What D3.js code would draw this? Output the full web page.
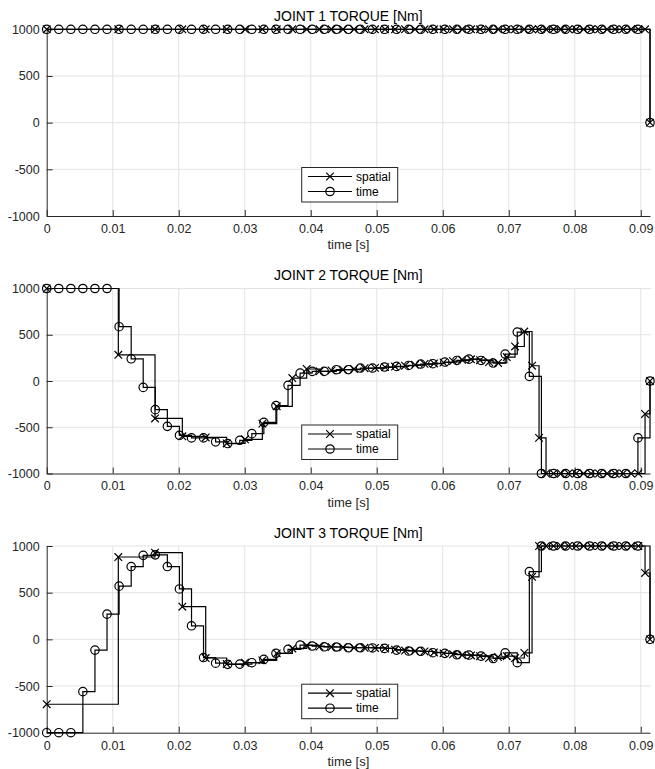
<!DOCTYPE html>
<html>
<head>
<meta charset="utf-8">
<script src="https://cdn.jsdelivr.net/npm/d3@7"></script>
<style>
  body { margin: 0; background: #fff; }
  svg { display: block; font-family: "Liberation Sans", Helvetica, Arial, sans-serif; }
</style>
</head>
<body>
<div id="chart"></div>
<script>
// sample times [s]
const timeT = [0, 0.00183, 0.00366, 0.00548, 0.00731, 0.00914, 0.01097, 0.0128, 0.01462, 0.01645,
  0.01828, 0.02011, 0.02194, 0.02376, 0.02559, 0.02742, 0.02925, 0.03108, 0.0329, 0.03473,
  0.03656, 0.03839, 0.04022, 0.04204, 0.04387, 0.0457, 0.04753, 0.04936, 0.05118, 0.05301,
  0.05484, 0.05667, 0.0585, 0.06032, 0.06215, 0.06398, 0.06581, 0.06764, 0.06946, 0.07129,
  0.07312, 0.07495, 0.07678, 0.0786, 0.08043, 0.08226, 0.08409, 0.08592, 0.08774, 0.08957, 0.0914];

const spatialT = [0, 0.01085, 0.01641, 0.02055, 0.02409, 0.02727, 0.03005, 0.03267, 0.03485, 0.03721,
  0.03939, 0.04133, 0.04315, 0.04489, 0.04656, 0.04815, 0.04974, 0.05126, 0.05277, 0.05429,
  0.0558, 0.05724, 0.05868, 0.06012, 0.06156, 0.06292, 0.06429, 0.06565, 0.06702, 0.06838,
  0.0697, 0.07095, 0.07236, 0.07353, 0.07459, 0.07565, 0.07679, 0.07792, 0.07906, 0.0802,
  0.08133, 0.08247, 0.08368, 0.08489, 0.08611, 0.08732, 0.08853, 0.08964, 0.09065, 0.0914];

// torques [Nm]
const joint1Time = [1000, 1000, 1000, 1000, 1000, 1000, 1000, 1000, 1000, 1000,
  1000, 1000, 1000, 1000, 1000, 1000, 1000, 1000, 1000, 1000,
  1000, 1000, 1000, 1000, 1000, 1000, 1000, 1000, 1000, 1000,
  1000, 1000, 1000, 1000, 1000, 1000, 1000, 1000, 1000, 1000,
  1000, 1000, 1000, 1000, 1000, 1000, 1000, 1000, 1000, 1000, 0];
const joint1Spatial = [1000, 1000, 1000, 1000, 1000, 1000, 1000, 1000, 1000, 1000,
  1000, 1000, 1000, 1000, 1000, 1000, 1000, 1000, 1000, 1000,
  1000, 1000, 1000, 1000, 1000, 1000, 1000, 1000, 1000, 1000,
  1000, 1000, 1000, 1000, 1000, 1000, 1000, 1000, 1000, 1000,
  1000, 1000, 1000, 1000, 1000, 1000, 1000, 1000, 1000, 0];

const joint2Time = [1000, 1000, 1000, 1000, 1000, 1000, 587, 240, -69, -310,
  -490, -587, -615, -615, -658, -676, -641, -569, -447, -266,
  -47, 86, 104, 104, 122, 122, 140, 140, 151, 158,
  168, 183, 187, 205, 222, 237, 222, 194, 291, 529,
  50, -1000, -1000, -1000, -1000, -1000, -1000, -1000, -1000, -615, 0];
const joint2Spatial = [1000, 283, -405, -598, -610, -675, -630, -461, -274, 32,
  130, 105, 115, 122, 130, 138, 142, 150, 156, 165,
  175, 185, 190, 200, 215, 230, 235, 225, 205, 195,
  259, 373, 535, 165, -615, -1000, -1000, -1000, -1000, -1000,
  -1000, -1000, -1000, -1000, -1000, -1000, -1000, -1000, -356, 0];

const joint3Time = [-1000, -1000, -1000, -560, -115, 270, 570, 780, 900, 905,
  780, 540, 145, -195, -255, -268, -265, -250, -215, -150,
  -107, -62, -72, -80, -82, -90, -90, -92, -97, -115,
  -125, -128, -143, -150, -165, -168, -180, -205, -145, -250,
  725, 1000, 1000, 1000, 1000, 1000, 1000, 1000, 1000, 1000, 0];
const joint3Spatial = [-695, 882, 928, 350, -200, -265, -250, -225, -150, -97,
  -65, -78, -82, -85, -90, -90, -92, -97, -110, -120,
  -125, -130, -140, -150, -160, -168, -172, -180, -200, -190,
  -180, -200, -145, 670, 1000, 1000, 1000, 1000, 1000, 1000,
  1000, 1000, 1000, 1000, 1000, 1000, 1000, 1000, 711, 0];

const titles = ["JOINT 1 TORQUE [Nm]", "JOINT 2 TORQUE [Nm]", "JOINT 3 TORQUE [Nm]"];
const xTicks = [0, 0.01, 0.02, 0.03, 0.04, 0.05, 0.06, 0.07, 0.08, 0.09];
const yTicks = [-1000, -500, 0, 500, 1000];
const legendLabels = ["spatial", "time"];

const panels = [
  { title: titles[0], spatial: joint1Spatial, time: joint1Time },
  { title: titles[1], spatial: joint2Spatial, time: joint2Time },
  { title: titles[2], spatial: joint3Spatial, time: joint3Time }
];

let width = 655, height = 769;
const left = 46.7, right = 650;
const tops = [29.3, 288.5, 546];
const heights = [186.7, 185, 186.7];

let svg = d3.select("#chart").append("svg")
  .attr("width", width)
  .attr("height", height);

let x = d3.scaleLinear().domain([0, 0.0914]).range([left, right]);

const crossPath = s => `M${-s},${-s}L${s},${s}M${-s},${s}L${s},${-s}`;
const lw = 1.2;

panels.forEach((p, k) => {
  const top = tops[k], bottom = top + heights[k];
  let y = d3.scaleLinear().domain([-1000, 1000]).range([bottom, top]);
  let g = svg.append("g");

  // grid
  g.append("g").selectAll("line").data(xTicks.slice(1)).enter().append("line")
    .attr("x1", d => x(d)).attr("x2", d => x(d))
    .attr("y1", top).attr("y2", bottom)
    .attr("stroke", "#e3e3e3");
  g.append("g").selectAll("line").data(yTicks.slice(1)).enter().append("line")
    .attr("x1", left).attr("x2", right + 1)
    .attr("y1", d => y(d)).attr("y2", d => y(d))
    .attr("stroke", "#e3e3e3");

  // axes, ticks pointing inside
  let xAxis = g.append("g")
    .attr("transform", `translate(0,${bottom})`)
    .call(d3.axisBottom(x).tickValues(xTicks).tickFormat(d => d === 0 ? "0" : d.toFixed(2))
      .tickSizeInner(-6).tickSizeOuter(0).tickPadding(8));
  let yAxis = g.append("g")
    .attr("transform", `translate(${left},0)`)
    .call(d3.axisLeft(y).tickValues(yTicks).tickFormat(d => String(d))
      .tickSizeInner(-6).tickSizeOuter(0).tickPadding(7));
  [xAxis, yAxis].forEach(a => {
    a.select(".domain").attr("stroke", "#262626");
    a.selectAll(".tick line").attr("stroke", "#262626");
    a.selectAll("text").attr("fill", "#262626").style("font-size", "12.5px")
      .style("font-family", "'Liberation Sans', Helvetica, Arial, sans-serif");
  });

  // title and x label
  g.append("text")
    .attr("x", (left + right) / 2)
    .attr("y", top - 8.5)
    .attr("text-anchor", "middle")
    .style("font-size", "14px")
    .text(p.title);
  g.append("text")
    .attr("x", (left + right) / 2)
    .attr("y", bottom + 33)
    .attr("text-anchor", "middle")
    .attr("fill", "#262626")
    .style("font-size", "13px")
    .text("time [s]");

  // stairs
  let stairs = d3.line().x(d => x(d[0])).y(d => y(d[1])).curve(d3.curveStepAfter);
  const sp = spatialT.map((t, i) => [t, p.spatial[i]]);
  const tm = timeT.map((t, i) => [t, p.time[i]]);

  g.append("path").datum(sp).attr("d", stairs)
    .attr("fill", "none").attr("stroke", "#000").attr("stroke-width", lw);
  g.append("path").datum(tm).attr("d", stairs)
    .attr("fill", "none").attr("stroke", "#000").attr("stroke-width", lw);

  g.append("g").selectAll("path").data(sp).enter().append("path")
    .attr("transform", d => `translate(${x(d[0])},${y(d[1])})`)
    .attr("d", crossPath(3.8))
    .attr("stroke", "#000").attr("stroke-width", lw).attr("fill", "none");
  g.append("g").selectAll("circle").data(tm).enter().append("circle")
    .attr("cx", d => x(d[0])).attr("cy", d => y(d[1]))
    .attr("r", 4.2)
    .attr("stroke", "#000").attr("stroke-width", lw).attr("fill", "none");

  // legend
  const lt = bottom - 48.5;
  let legend = g.append("g");
  legend.append("rect")
    .attr("x", 301.7).attr("y", lt)
    .attr("width", 96).attr("height", 34.5)
    .attr("fill", "#fff").attr("stroke", "#262626").attr("stroke-width", 1);
  legendLabels.forEach((lab, i) => {
    const ly = lt + 9 + i * 15;
    legend.append("line")
      .attr("x1", 308).attr("x2", 352)
      .attr("y1", ly).attr("y2", ly)
      .attr("stroke", "#000").attr("stroke-width", lw);
    if (i === 0) {
      legend.append("path")
        .attr("transform", `translate(330,${ly})`)
        .attr("d", crossPath(3.8))
        .attr("stroke", "#000").attr("stroke-width", lw).attr("fill", "none");
    } else {
      legend.append("circle")
        .attr("cx", 330).attr("cy", ly).attr("r", 4.2)
        .attr("stroke", "#000").attr("stroke-width", lw).attr("fill", "none");
    }
    legend.append("text")
      .attr("x", 356)
      .attr("y", ly)
      .attr("dy", "0.35em")
      .style("font-size", "12px")
      .text(lab);
  });
});
</script>
</body>
</html>
